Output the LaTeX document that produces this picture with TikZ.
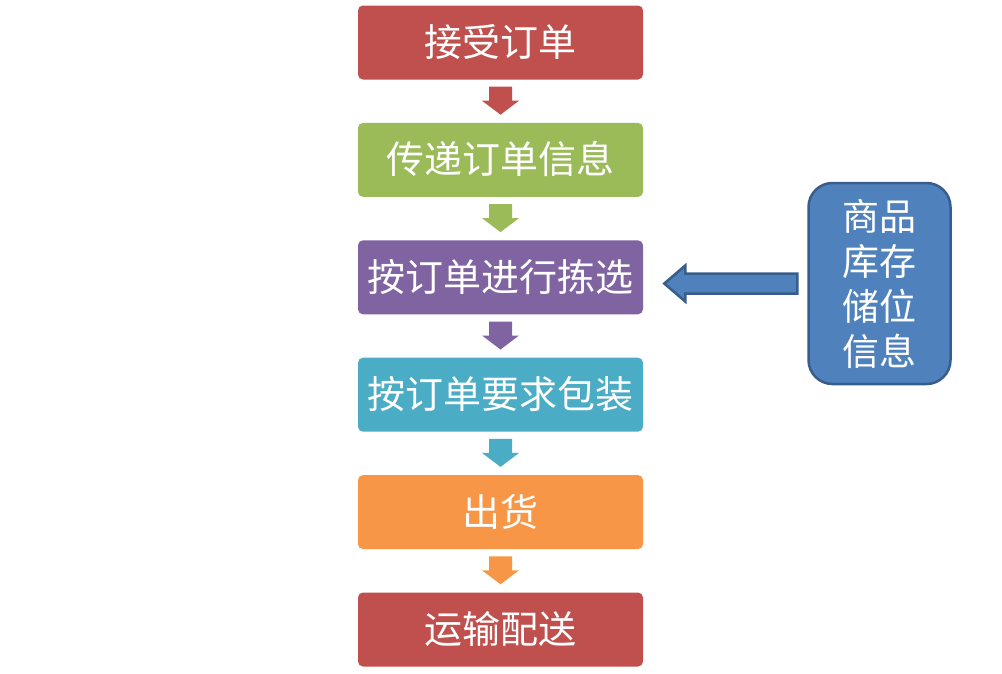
\documentclass[tikz,border=0pt]{standalone}
\usepackage{fontspec}
\newfontfamily\cjk{Noto Sans CJK SC}
\usetikzlibrary{positioning,calc}
\definecolor{StepRed}{RGB}{192,80,77}
\definecolor{StepGreen}{RGB}{155,187,89}
\definecolor{StepPurple}{RGB}{128,100,162}
\definecolor{StepAqua}{RGB}{75,172,198}
\definecolor{StepOrange}{RGB}{247,150,70}
\definecolor{InfoBlue}{RGB}{79,129,189}
\definecolor{InfoEdge}{RGB}{56,93,138}
\tikzset{
	stepbox/.style={fill=#1,rounded corners=5pt,minimum width=285pt,minimum height=74pt,
		inner sep=0pt,text=white,text height=33pt,text depth=5pt,
		font=\cjk\fontsize{38}{44}\selectfont},
	infobox/.style={fill=InfoBlue,draw=InfoEdge,line width=2.5pt,rounded corners=24pt,
		minimum width=142pt,minimum height=201pt,inner sep=0pt,text=white,align=center,
		font=\cjk\fontsize{37}{45}\selectfont},
	bigarrow/.style={fill=InfoBlue,draw=InfoEdge,line width=2.5pt,line join=miter},
}
\begin{document}
\begin{tikzpicture}[x=1pt,y=-1pt]
	\useasboundingbox (0,0) rectangle (1002,673);
	\node[stepbox=StepRed] (s1) at (500.5,42.5) {接受订单};
	\node[stepbox=StepGreen,below=43pt of s1] (s2) {传递订单信息};
	\node[stepbox=StepPurple,below=43pt of s2] (s3) {按订单进行拣选};
	\node[stepbox=StepAqua,below=43pt of s3] (s4) {按订单要求包装};
	\node[stepbox=StepOrange,below=43pt of s4] (s5) {出货};
	\node[stepbox=StepRed,below=43pt of s5] (s6) {运输配送};
	\node[infobox] (info) at (879.5,283.5) {商品\\库存\\储位\\信息};
	% small block arrows between the steps
	\foreach \a/\b/\c in {s1/s2/StepRed,s2/s3/StepGreen,s3/s4/StepPurple,
		s4/s5/StepAqua,s5/s6/StepOrange}{
		\fill[\c] ($(\a.south)+(-11.5,7)$) -- ++(23,0) -- ++(0,14) -- ++(7,0)
			-- ($(\a.south)+(0,35)$) -- ($(\a.south)+(-18.5,21)$) -- ++(7,0) -- cycle;
	}
	% block arrow from the info box to the picking step
	\draw[bigarrow] ($(info.west)+(-10,-10)$) -- ($(info.west)+(-122,-10)$)
		-- ($(info.west)+(-122,-18)$) -- ($(info.west)+(-143,0)$)
		-- ($(info.west)+(-122,18)$) -- ($(info.west)+(-122,10)$)
		-- ($(info.west)+(-10,10)$) -- cycle;
\end{tikzpicture}
\end{document}
